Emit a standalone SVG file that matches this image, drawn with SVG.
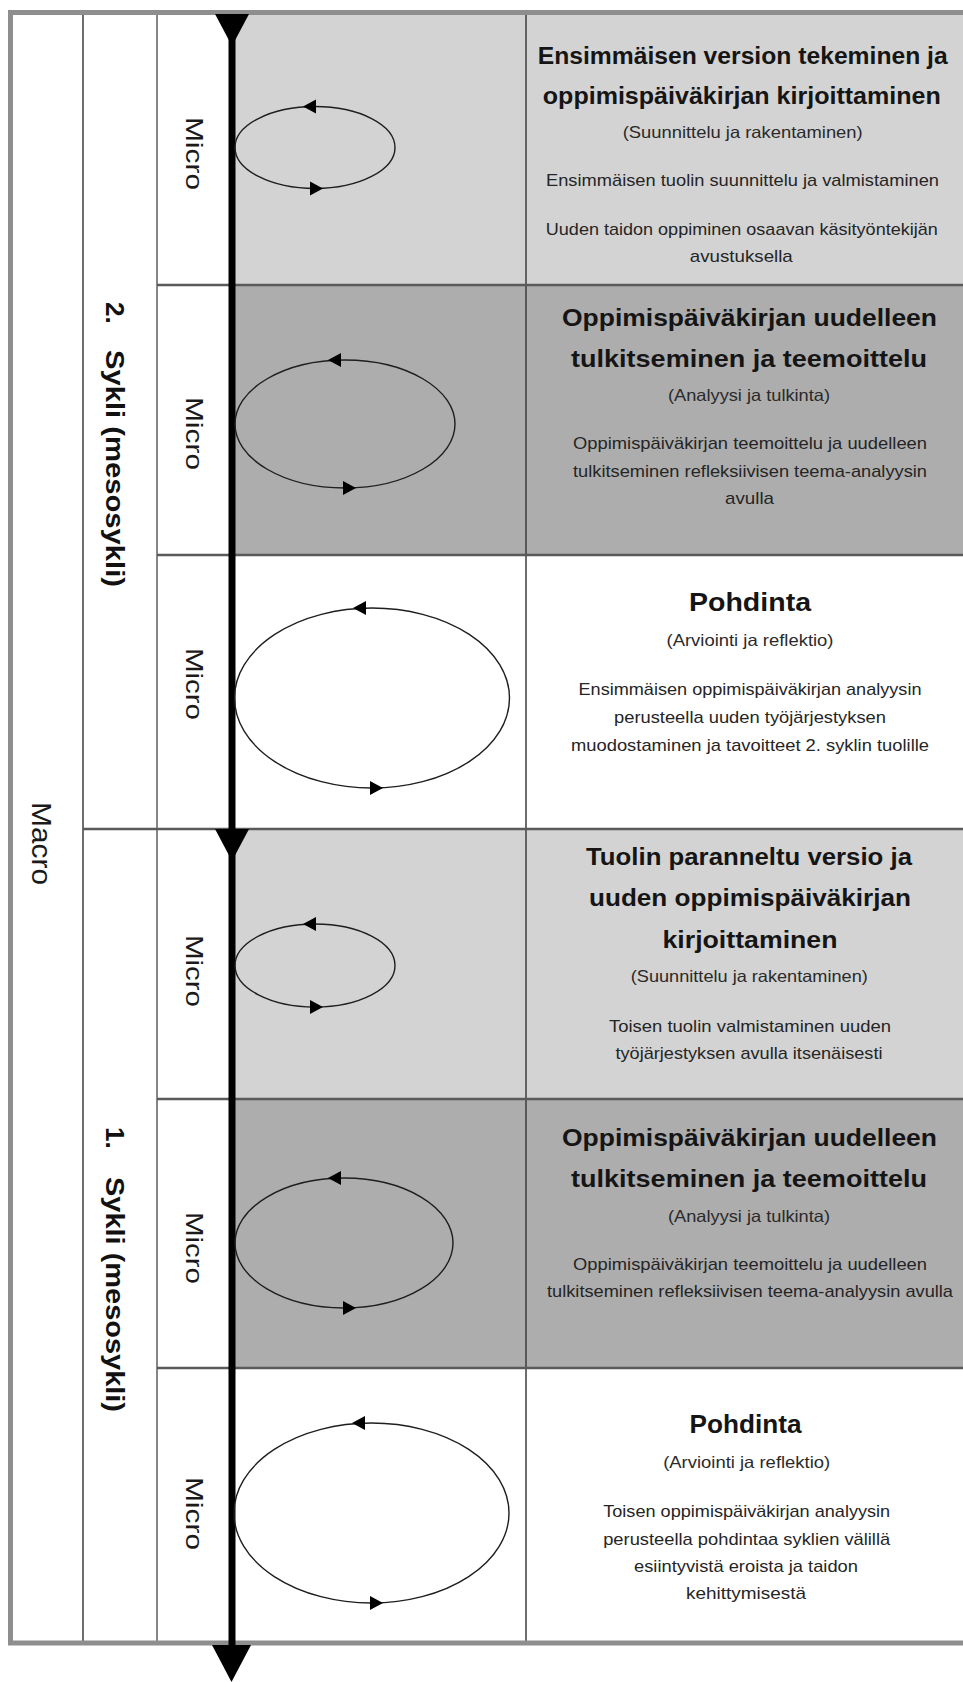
<svg xmlns="http://www.w3.org/2000/svg" width="963" height="1682" viewBox="0 0 963 1682">
<style>
.lt{fill:#d3d3d3}
.dk{fill:#adadad}
.frame{fill:none;stroke:#8e8e8e;stroke-width:5}
.col{stroke:#3c3c3c;stroke-width:1.5}
.col2{stroke:#5e5e5e;stroke-width:1.5}
.row{stroke:#5a5a5a;stroke-width:2.5}
.cyc{fill:none;stroke:#1e1e1e;stroke-width:1.4}
.ah{fill:#000}
text{font-family:"Liberation Sans",Arial,sans-serif}
.ttl{font-weight:bold;font-size:23px;fill:#151515;text-anchor:middle}
.pd{font-weight:bold;font-size:25px;fill:#151515;text-anchor:middle}
.sub{font-size:16.5px;fill:#2a2a2a;text-anchor:middle}
.bd{font-size:17px;fill:#252525;text-anchor:middle}
.mic{font-size:24px;fill:#1a1a1a}
.mac{font-size:27px;fill:#1a1a1a}
.cy{font-weight:bold;font-size:26px;fill:#111}
</style>
<rect x="0" y="0" width="963" height="1682" fill="#ffffff"/>
<g id="backgrounds">
<rect class="lt" x="232" y="14" width="731" height="271"/>
<rect class="dk" x="232" y="285" width="731" height="270"/>
<rect class="lt" x="232" y="829" width="731" height="270"/>
<rect class="dk" x="232" y="1099" width="731" height="269"/>
</g>
<g id="grid">
<line class="col" x1="83" y1="13" x2="83" y2="1643"/>
<line class="col2" x1="157" y1="13" x2="157" y2="1643"/>
<line class="col" x1="526" y1="13" x2="526" y2="1643"/>
<line class="row" x1="157" y1="285" x2="963" y2="285"/>
<line class="row" x1="157" y1="555" x2="963" y2="555"/>
<line class="row" x1="83" y1="829" x2="963" y2="829"/>
<line class="row" x1="157" y1="1099" x2="963" y2="1099"/>
<line class="row" x1="157" y1="1368" x2="963" y2="1368"/>
<path class="frame" d="M963,12.5 H10.5 V1643 H963"/>
</g>
<g id="labels-left">
<g id="macro" transform="translate(32,0) rotate(90)"><text class="mac" x="802" y="0" textLength="83" lengthAdjust="spacingAndGlyphs">Macro</text></g>
<g id="cycle2" transform="translate(106,0) rotate(90)"><text class="cy" x="302" y="0">2.</text><text class="cy" x="350" y="0" textLength="237" lengthAdjust="spacingAndGlyphs">Sykli (mesosykli)</text></g>
<g id="cycle1" transform="translate(106,0) rotate(90)"><text class="cy" x="1127" y="0">1.</text><text class="cy" x="1177" y="0" textLength="235" lengthAdjust="spacingAndGlyphs">Sykli (mesosykli)</text></g>
<g transform="translate(186,0) rotate(90)">
<text id="micro1" class="mic" x="117" y="0" textLength="73" lengthAdjust="spacingAndGlyphs">Micro</text>
<text id="micro2" class="mic" x="397" y="0" textLength="73" lengthAdjust="spacingAndGlyphs">Micro</text>
<text id="micro3" class="mic" x="648" y="0" textLength="72" lengthAdjust="spacingAndGlyphs">Micro</text>
<text id="micro4" class="mic" x="935" y="0" textLength="72" lengthAdjust="spacingAndGlyphs">Micro</text>
<text id="micro5" class="mic" x="1212" y="0" textLength="72" lengthAdjust="spacingAndGlyphs">Micro</text>
<text id="micro6" class="mic" x="1477" y="0" textLength="73" lengthAdjust="spacingAndGlyphs">Micro</text>
</g>
</g>
<g id="connectors">
<line x1="232" y1="14" x2="232" y2="1650" stroke="#000" stroke-width="7"/>
<polygon class="ah" points="215,14 249,14 232,46"/>
<polygon class="ah" points="215,829 249,829 232,861"/>
<polygon class="ah" points="212,1645 251,1645 231.5,1682"/>
</g>
<g id="cycle-1">
<ellipse class="cyc" cx="315" cy="147.5" rx="80" ry="41"/>
<polygon class="ah" points="303,106.5 316,99.5 316,113.5"/>
<polygon class="ah" points="323,188.5 310,181.5 310,195.5"/>
</g>
<g id="cycle-2">
<ellipse class="cyc" cx="345" cy="424" rx="110" ry="64"/>
<polygon class="ah" points="328,360 341,353 341,367"/>
<polygon class="ah" points="356,488 343,481 343,495"/>
</g>
<g id="cycle-3">
<ellipse class="cyc" cx="372" cy="698" rx="137.5" ry="90"/>
<polygon class="ah" points="353,608 366,601 366,615"/>
<polygon class="ah" points="383,788 370,781 370,795"/>
</g>
<g id="cycle-4">
<ellipse class="cyc" cx="315" cy="965.5" rx="80" ry="41.5"/>
<polygon class="ah" points="303,924 316,917 316,931"/>
<polygon class="ah" points="323,1007 310,1000 310,1014"/>
</g>
<g id="cycle-5">
<ellipse class="cyc" cx="344" cy="1243" rx="109" ry="65"/>
<polygon class="ah" points="328,1178 341,1171 341,1185"/>
<polygon class="ah" points="356,1308 343,1301 343,1315"/>
</g>
<g id="cycle-6">
<ellipse class="cyc" cx="371.5" cy="1513" rx="137.5" ry="90"/>
<polygon class="ah" points="352,1423 365,1416 365,1430"/>
<polygon class="ah" points="383,1603 370,1596 370,1610"/>
</g>
<g id="text-1">
<text class="ttl" x="742.7" y="64.3" textLength="410" lengthAdjust="spacingAndGlyphs">Ensimmäisen version tekeminen ja</text>
<text class="ttl" x="741.8" y="104.3" textLength="398" lengthAdjust="spacingAndGlyphs">oppimispäiväkirjan kirjoittaminen</text>
<text class="sub" x="742.7" y="137.7" textLength="240" lengthAdjust="spacingAndGlyphs">(Suunnittelu ja rakentaminen)</text>
<text class="bd" x="742.5" y="186" textLength="393" lengthAdjust="spacingAndGlyphs">Ensimmäisen tuolin suunnittelu ja valmistaminen</text>
<text class="bd" x="741.8" y="235" textLength="392" lengthAdjust="spacingAndGlyphs">Uuden taidon oppiminen osaavan käsityöntekijän</text>
<text class="bd" x="741.3" y="261.7" textLength="103" lengthAdjust="spacingAndGlyphs">avustuksella</text>
</g>
<g id="text-2">
<text class="ttl" x="749.5" y="325.7" textLength="375" lengthAdjust="spacingAndGlyphs">Oppimispäiväkirjan uudelleen</text>
<text class="ttl" x="749" y="366.7" textLength="356" lengthAdjust="spacingAndGlyphs">tulkitseminen ja teemoittelu</text>
<text class="sub" x="749" y="400.7" textLength="162" lengthAdjust="spacingAndGlyphs">(Analyysi ja tulkinta)</text>
<text class="bd" x="750" y="449.3" textLength="354" lengthAdjust="spacingAndGlyphs">Oppimispäiväkirjan teemoittelu ja uudelleen</text>
<text class="bd" x="750" y="476.7" textLength="354" lengthAdjust="spacingAndGlyphs">tulkitseminen refleksiivisen teema-analyysin</text>
<text class="bd" x="749.5" y="504.3" textLength="49" lengthAdjust="spacingAndGlyphs">avulla</text>
</g>
<g id="text-3">
<text class="pd" x="750" y="611" textLength="122" lengthAdjust="spacingAndGlyphs">Pohdinta</text>
<text class="sub" x="750" y="646" textLength="167" lengthAdjust="spacingAndGlyphs">(Arviointi ja reflektio)</text>
<text class="bd" x="750" y="695" textLength="343" lengthAdjust="spacingAndGlyphs">Ensimmäisen oppimispäiväkirjan analyysin</text>
<text class="bd" x="750" y="722.7" textLength="272" lengthAdjust="spacingAndGlyphs">perusteella uuden työjärjestyksen</text>
<text class="bd" x="750" y="750.7" textLength="358" lengthAdjust="spacingAndGlyphs">muodostaminen ja tavoitteet 2. syklin tuolille</text>
</g>
<g id="text-4">
<text class="ttl" x="749" y="865" textLength="326" lengthAdjust="spacingAndGlyphs">Tuolin paranneltu versio ja</text>
<text class="ttl" x="750" y="906" textLength="322" lengthAdjust="spacingAndGlyphs">uuden oppimispäiväkirjan</text>
<text class="ttl" x="750" y="948.3" textLength="175" lengthAdjust="spacingAndGlyphs">kirjoittaminen</text>
<text class="sub" x="749.3" y="981.7" textLength="237" lengthAdjust="spacingAndGlyphs">(Suunnittelu ja rakentaminen)</text>
<text class="bd" x="750" y="1031.7" textLength="282" lengthAdjust="spacingAndGlyphs">Toisen tuolin valmistaminen uuden</text>
<text class="bd" x="749" y="1059.3" textLength="267" lengthAdjust="spacingAndGlyphs">työjärjestyksen avulla itsenäisesti</text>
</g>
<g id="text-5">
<text class="ttl" x="749.5" y="1145.7" textLength="375" lengthAdjust="spacingAndGlyphs">Oppimispäiväkirjan uudelleen</text>
<text class="ttl" x="749" y="1187.3" textLength="356" lengthAdjust="spacingAndGlyphs">tulkitseminen ja teemoittelu</text>
<text class="sub" x="749" y="1221.7" textLength="162" lengthAdjust="spacingAndGlyphs">(Analyysi ja tulkinta)</text>
<text class="bd" x="750" y="1270" textLength="354" lengthAdjust="spacingAndGlyphs">Oppimispäiväkirjan teemoittelu ja uudelleen</text>
<text class="bd" x="750" y="1297.3" textLength="406" lengthAdjust="spacingAndGlyphs">tulkitseminen refleksiivisen teema-analyysin avulla</text>
</g>
<g id="text-6">
<text class="pd" x="745.5" y="1433.3" textLength="112" lengthAdjust="spacingAndGlyphs">Pohdinta</text>
<text class="sub" x="746.7" y="1467.7" textLength="167" lengthAdjust="spacingAndGlyphs">(Arviointi ja reflektio)</text>
<text class="bd" x="746.7" y="1516.7" textLength="287" lengthAdjust="spacingAndGlyphs">Toisen oppimispäiväkirjan analyysin</text>
<text class="bd" x="746.7" y="1545" textLength="287" lengthAdjust="spacingAndGlyphs">perusteella pohdintaa syklien välillä</text>
<text class="bd" x="746" y="1571.7" textLength="224" lengthAdjust="spacingAndGlyphs">esiintyvistä eroista ja taidon</text>
<text class="bd" x="746" y="1599.3" textLength="120" lengthAdjust="spacingAndGlyphs">kehittymisestä</text>
</g>
</svg>
